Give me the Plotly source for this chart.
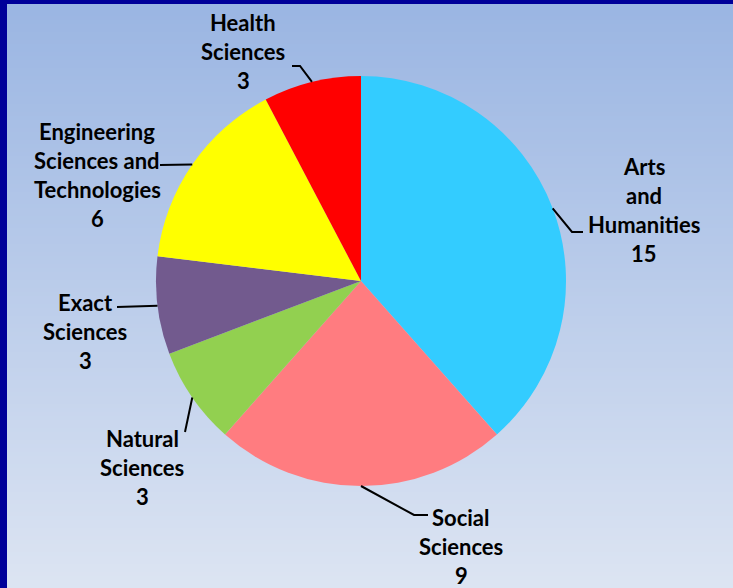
import plotly.graph_objects as go
import numpy as np

# data
fields = ["Arts and Humanities", "Social Sciences", "Natural Sciences",
          "Exact Sciences", "Engineering Sciences and Technologies", "Health Sciences"]
counts = [15, 9, 3, 3, 6, 3]
colors = ["#33CCFF", "#FF7C80", "#92D050", "#725A8E", "#FFFF00", "#FF0000"]
# label text split into lines as in the original chart
label_lines = [["Arts", "and", "Humanities"], ["Social", "Sciences"], ["Natural", "Sciences"],
               ["Exact", "Sciences"], ["Engineering", "Sciences and", "Technologies"], ["Health", "Sciences"]]

W, H = 733, 588
cx, cy, R = 361, 281, 205

# label centre (px) and leader-line elbow points (px)
label_pos = [(644, 210), (461, 546), (142, 467), (85, 331), (97, 175), (243, 52)]
elbows = [[(572, 232), (583, 232)], [(414, 515), (428, 515)], [(185, 432), (185, 432)],
          [(117, 307), (117, 307)], [(160, 165), (160, 165)], [(300, 66), (292, 66)]]


def px(x):
    return x / W


def py(y):
    return 1 - y / H


fig = go.Figure(go.Pie(
    labels=fields, values=counts, sort=False, direction="clockwise", rotation=0,
    marker=dict(colors=colors, line=dict(width=0)), textinfo="none", hoverinfo="label+value",
    showlegend=False,
    domain=dict(x=[px(cx - R), px(cx + R)], y=[py(cy + R), py(cy - R)]),
))

shapes = []
# vertical gradient background
top_c = np.array([0x9B, 0xB6, 0xE3])
bot_c = np.array([0xDD, 0xE5, 0xF3])
y0, y1, step = 4, H, 4
for yy in range(y0, y1, step):
    t = (yy - y0) / (y1 - y0)
    c = (top_c + (bot_c - top_c) * t).astype(int)
    shapes.append(dict(type="rect", xref="paper", yref="paper", layer="below",
                       x0=px(7), x1=1.01, y0=py(min(yy + step + 1, H + 2)), y1=py(yy),
                       fillcolor="rgb(%d,%d,%d)" % tuple(c), line=dict(width=0)))

# leader lines from slice mid-angle on the pie edge
total = sum(counts)
cum = 0
annotations = []
for i, v in enumerate(counts):
    mid = (cum + v / 2) / total * 2 * np.pi
    cum += v
    ex, ey = cx + R * np.sin(mid), cy - R * np.cos(mid)
    pts = [(ex, ey)] + elbows[i]
    path = "M " + " L ".join("%f,%f" % (px(a), py(b)) for a, b in pts)
    shapes.append(dict(type="path", xref="paper", yref="paper", path=path,
                       line=dict(color="black", width=2)))
    lines = label_lines[i] + [str(v)]
    lx, ly = label_pos[i]
    n = len(lines)
    for j, s in enumerate(lines):
        yy = ly + (j - (n - 1) / 2) * 29
        annotations.append(dict(x=px(lx), y=py(yy), xref="paper", yref="paper", text="<b>%s</b>" % s,
                                showarrow=False, xanchor="center", yanchor="middle",
                                font=dict(family="Lato", size=22, color="black")))

fig.update_layout(width=W, height=H, margin=dict(l=0, r=0, t=0, b=0),
                  paper_bgcolor="#000099", shapes=shapes, annotations=annotations)
fig.write_html("out.html", config={"displayModeBar": False},
               post_script="document.body.style.margin='0';document.body.style.overflow='hidden';")
